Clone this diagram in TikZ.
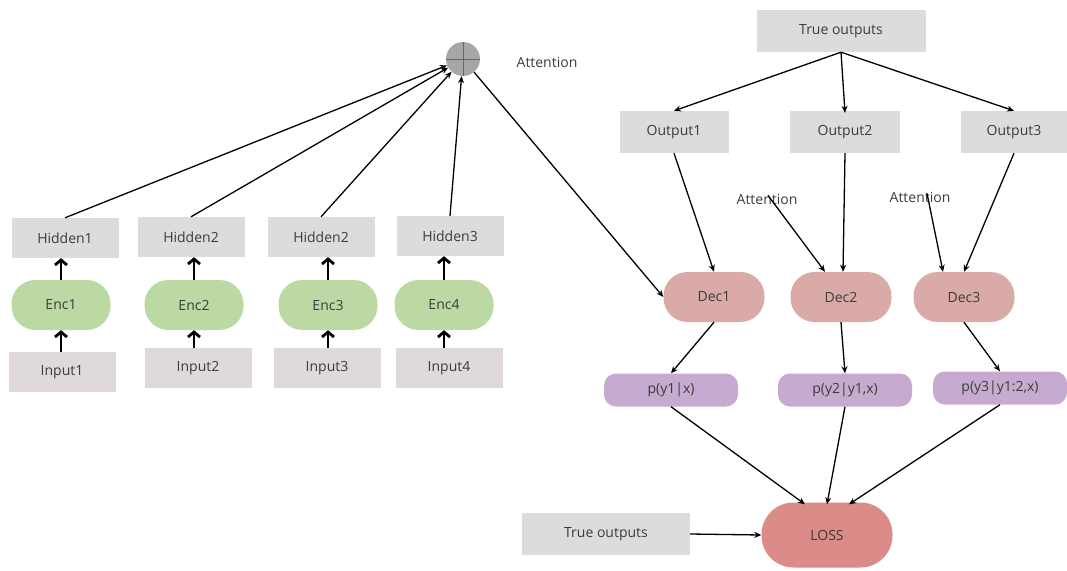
\documentclass[tikz,border=0pt]{standalone}
\usepackage{fontspec}
\setmainfont{Open Sans}
\usetikzlibrary{arrows.meta,calc}
\definecolor{boxgray}{HTML}{DCDCDC}
\definecolor{inpgray}{HTML}{E0D9D9}
\definecolor{encgreen}{HTML}{BDD9A3}
\definecolor{decpink}{HTML}{D9AAA8}
\definecolor{ppurple}{HTML}{C7AACF}
\definecolor{losscol}{HTML}{DB8B88}
\definecolor{txt}{HTML}{3C3C3C}
\tikzset{
  every node/.style={font=\fontsize{14}{16}\selectfont, text=txt},
  gbox/.style={fill=boxgray, minimum width=107pt, minimum height=40pt, inner sep=0pt},
  ibox/.style={fill=inpgray, minimum width=107pt, minimum height=40pt, inner sep=0pt},
  enc/.style={fill=encgreen, rounded corners=24pt, minimum width=99pt, minimum height=50pt, inner sep=0pt},
  dec/.style={fill=decpink, rounded corners=24pt, minimum width=101pt, minimum height=50pt, inner sep=0pt},
  pbox/.style={fill=ppurple, rounded corners=12pt, minimum width=134pt, minimum height=33pt, inner sep=0pt},
  lossbox/.style={fill=losscol, rounded corners=32pt, minimum width=131pt, minimum height=65pt, inner sep=0pt},
  thickarr/.style={line width=2.8pt, -{Straight Barb[length=5pt,width=12pt]}},
  thinarr/.style={line width=1.3pt, -{Stealth[length=7pt,width=6pt]}},
  lbl/.style={inner sep=1pt},
}
\begin{document}
\begin{tikzpicture}[x=1pt,y=-1pt]
\useasboundingbox (0,0) rectangle (1067,570);
% encoder side
\node[gbox] (h1) at (65,238) {Hidden1};
\node[gbox] (h2) at (191,237) {Hidden2};
\node[gbox] (h3) at (321,237) {Hidden2};
\node[gbox] (h4) at (450,236) {Hidden3};
\node[enc] (e1) at (61,305) {Enc1};
\node[enc] (e2) at (194,305) {Enc2};
\node[enc] (e3) at (328,305) {Enc3};
\node[enc] (e4) at (444,305) {Enc4};
\node[ibox] (i1) at (62,372) {Input1};
\node[ibox] (i2) at (198,368) {Input2};
\node[ibox] (i3) at (327,368) {Input3};
\node[ibox] (i4) at (449,368) {Input4};
\foreach \k in {1,2,3,4}{
  \draw[thickarr] (e\k.north) -- (e\k.north |- h\k.south);
  \draw[thickarr] (e\k.south |- i\k.north) -- (e\k.south);
}
% attention circle
\node[circle, fill=gray!70, minimum size=34pt, inner sep=0pt] (att) at (463,59) {};
\draw[black!60, line width=0.8pt] (att.north) -- (att.south) (att.west) -- (att.east);
\node[lbl] (attl) at (547,62) {Attention};
\draw[thinarr] (h1.north) -- (att);
\draw[thinarr] (h2.north) -- (att);
\draw[thinarr] (h3.north) -- (att);
\draw[thinarr] (h4.north) -- (att);
% decoder side
\node[gbox, minimum width=169pt, minimum height=42pt] (to) at (841,31) {True outputs};
\node[gbox, minimum width=109pt, minimum height=42pt] (o1) at (674,132) {Output1};
\node[gbox, minimum width=110pt, minimum height=42pt] (o2) at (845,132) {Output2};
\node[gbox, minimum width=107pt, minimum height=42pt] (o3) at (1014,132) {Output3};
\draw[thinarr] (to.south) -- (o1.north);
\draw[thinarr] (to.south) -- ([yshift=-2pt]o2.north);
\draw[thinarr] (to.south) -- (o3.north);
\node[dec] (d1) at (714,297) {Dec1};
\node[dec] (d2) at (841,297) {Dec2};
\node[dec] (d3) at (964,297) {Dec3};
\node[lbl] (a2) at (767,199) {Attention};
\node[lbl] (a3) at (920,197) {Attention};
\draw[thinarr] (att) -- (d1.west);
\draw[thinarr] (o1.south) -- (d1.north);
\draw[thinarr] (o2.south) -- ([xshift=2pt]d2.north);
\draw[thinarr] (o3.south) -- (d3.north);
\draw[thinarr] ([xshift=1pt,yshift=10pt]a2.south) -- ([xshift=-16pt]d2.north);
\draw[thinarr] ([xshift=7pt,yshift=10pt]a3.south) -- ([xshift=-21pt]d3.north);
\node[pbox] (p1) at (671,390) {p(y1|x)};
\node[pbox] (p2) at (845,390) {p(y2|y1,x)};
\node[pbox] (p3) at (1000,388) {p(y3|y1:2,x)};
\draw[thinarr] (d1.south) -- (p1.north);
\draw[thinarr] (d2.south) -- (p2.north);
\draw[thinarr] (d3.south) -- (p3.north);
\node[lossbox] (loss) at (827,535) {LOSS};
\node[gbox, minimum width=168pt, minimum height=42pt] (to2) at (606,534) {True outputs};
\draw[thinarr] (p1.south) -- ([xshift=-22pt,yshift=-2pt]loss.north);
\draw[thinarr] (p2.south) -- ([yshift=-2pt]loss.north);
\draw[thinarr] (p3.south) -- ([xshift=22pt,yshift=-2pt]loss.north);
\draw[thinarr] (to2.east) -- (loss.west);
\end{tikzpicture}
\end{document}
